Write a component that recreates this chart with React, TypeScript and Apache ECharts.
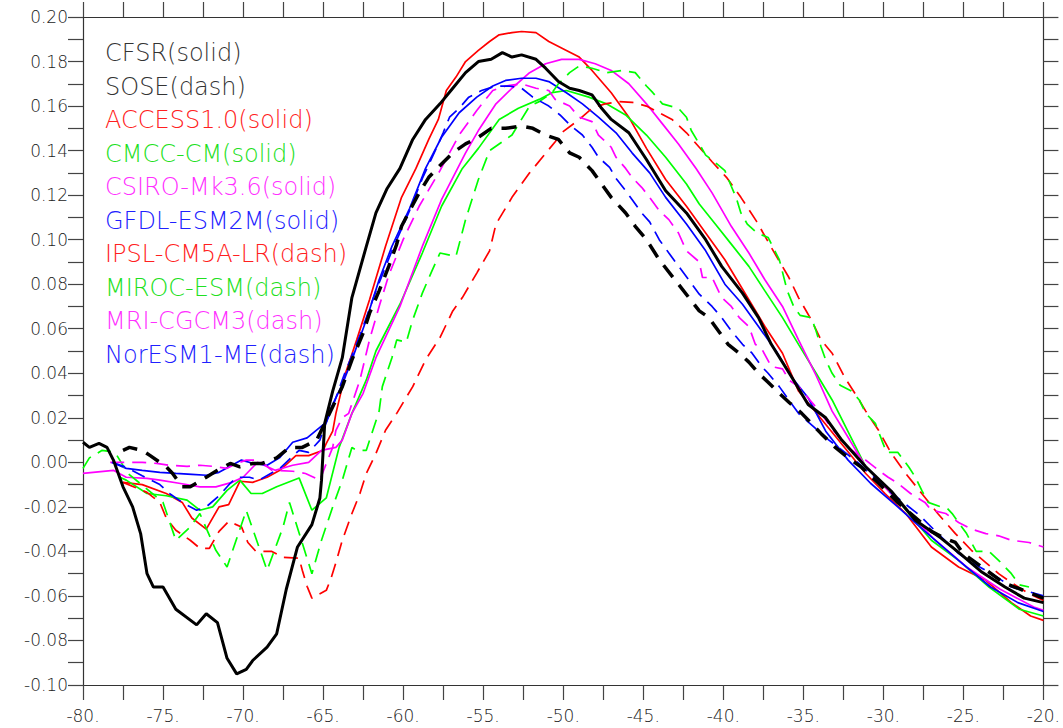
import React, { useEffect, useRef } from "react";
import * as echarts from "echarts";

const xTicks = { min: -80, max: -20, interval: 5 };
const yTicks = { min: -0.1, max: 0.2, interval: 0.02 };

const cfsr = [[-80,0.009],[-79.6,0.0067],[-79,0.0085],[-78.5,0.0067],[-78.1,0.001],[-77.5,-0.011],[-76.9,-0.02],[-76.4,-0.032],[-76,-0.05],[-75.6,-0.056],[-75,-0.056],[-74.2,-0.066],[-72.9,-0.073],[-72.3,-0.068],[-71.6,-0.072],[-71,-0.088],[-70.4,-0.095],[-69.8,-0.093],[-69.4,-0.089],[-68.5,-0.083],[-67.9,-0.077],[-67.3,-0.057],[-66.6,-0.038],[-65.7,-0.028],[-65.2,-0.016],[-65.1,-0.008],[-64.9,0.0175],[-64.4,0.032],[-63.8,0.047],[-63.2,0.074],[-62.3,0.097],[-61.7,0.112],[-61,0.123],[-60.2,0.132],[-59.4,0.145],[-58.6,0.154],[-57.7,0.161],[-56.9,0.168],[-56.1,0.175],[-55.3,0.18],[-54.5,0.181],[-53.8,0.184],[-53.2,0.182],[-52.6,0.183],[-51.7,0.181],[-51.1,0.177],[-50.3,0.171],[-49.6,0.168],[-49,0.167],[-48.2,0.165],[-47.6,0.159],[-47,0.154],[-45.9,0.148],[-44.8,0.136],[-43.6,0.122],[-42.3,0.112],[-41.1,0.1],[-40.1,0.088],[-38.8,0.076],[-37.8,0.065],[-37,0.053],[-35.7,0.038],[-34.7,0.026],[-33.6,0.02],[-32.6,0.01],[-31.1,-0.002],[-29.5,-0.013],[-28,-0.026],[-26.4,-0.034],[-25.2,-0.041],[-23.9,-0.049],[-22.4,-0.056],[-21.2,-0.061],[-20,-0.063]];

const sose = [[-77.5,0.0054],[-77.1,0.0067],[-76.3,0.0054],[-75.8,0.003],[-74.8,-0.002],[-74.4,-0.005],[-73.8,-0.011],[-73.3,-0.011],[-72.3,-0.0067],[-71.6,-0.0036],[-70.8,-0.0005],[-70.2,-0.002],[-69.4,-0.0005],[-68.8,-0.0005],[-67.9,0.002],[-67.1,0.0067],[-66.3,0.0067],[-65.4,0.01],[-65,0.016],[-64.4,0.025],[-63.8,0.034],[-63.2,0.046],[-62.5,0.058],[-62.1,0.067],[-61.5,0.077],[-60.9,0.088],[-60.4,0.098],[-60.1,0.106],[-59.6,0.113],[-59,0.121],[-58.4,0.128],[-57.6,0.134],[-56.9,0.139],[-56.1,0.143],[-55.3,0.146],[-54.5,0.15],[-53.6,0.15],[-52.6,0.151],[-51.9,0.15],[-51.1,0.147],[-50.3,0.145],[-49.6,0.139],[-49,0.137],[-48.2,0.131],[-47.8,0.127],[-47,0.119],[-46.1,0.112],[-45.5,0.106],[-44.8,0.1],[-44,0.091],[-41.5,0.068],[-40.9,0.065],[-40.3,0.059],[-39.7,0.053],[-39,0.049],[-38.4,0.045],[-37.8,0.04],[-37.2,0.036],[-36.5,0.031],[-35.9,0.027],[-35.1,0.022],[-34.7,0.019],[-33.9,0.013],[-33,0.0067],[-32.2,0.002],[-31.4,-0.002],[-30.3,-0.0094],[-29.1,-0.018],[-27.8,-0.026],[-27,-0.031],[-26.2,-0.034],[-25.5,-0.036],[-25,-0.041],[-22.5,-0.054],[-20,-0.061]];

const access = [[-77.5,-0.009],[-76.3,-0.01],[-74.8,-0.014],[-73.8,-0.018],[-73.2,-0.025],[-72.3,-0.03],[-71.5,-0.02],[-70.9,-0.019],[-70.2,-0.0085],[-69.4,-0.009],[-68.5,-0.0067],[-67.7,-0.0036],[-66.7,0.003],[-65.9,0.003],[-65,0.0054],[-64.8,0.0085],[-64.4,0.014],[-64.2,0.022],[-63.6,0.04],[-62.9,0.055],[-62.1,0.073],[-61.1,0.097],[-60.1,0.119],[-59.2,0.132],[-58.4,0.145],[-57.8,0.154],[-57.3,0.167],[-56.7,0.173],[-56.1,0.18],[-55.3,0.185],[-54.6,0.189],[-54,0.192],[-53.2,0.193],[-52.6,0.1935],[-51.7,0.193],[-50.9,0.189],[-49.8,0.185],[-49,0.182],[-48.2,0.176],[-47,0.166],[-45.9,0.155],[-44.8,0.141],[-43.6,0.127],[-42.3,0.115],[-41.1,0.103],[-39.9,0.091],[-38.4,0.073],[-37.4,0.061],[-36.3,0.049],[-35.3,0.032],[-34.5,0.025],[-31.1,-0.005],[-29.9,-0.014],[-28.6,-0.023],[-27,-0.038],[-25.3,-0.047],[-23.6,-0.053],[-22,-0.063],[-20.8,-0.069],[-20,-0.071]];

const cmcc = [[-77.7,-0.0067],[-77.3,-0.008],[-76,-0.014],[-74.8,-0.015],[-73.5,-0.017],[-72.7,-0.0215],[-71.9,-0.02],[-71,-0.0126],[-70.2,-0.008],[-69.5,-0.014],[-68.8,-0.014],[-67.9,-0.011],[-66.5,-0.007],[-65.7,-0.0215],[-64.8,-0.016],[-64,0.0067],[-63.2,0.022],[-62.3,0.037],[-61.7,0.05],[-60.2,0.071],[-58.8,0.094],[-57.6,0.115],[-56.3,0.132],[-55.3,0.141],[-54,0.154],[-52.8,0.159],[-51.5,0.163],[-50.7,0.166],[-49.8,0.167],[-48.4,0.164],[-47.3,0.161],[-46.1,0.156],[-44.8,0.147],[-43.6,0.137],[-42.3,0.125],[-41.5,0.116],[-40.5,0.107],[-39.5,0.098],[-38.4,0.088],[-37.4,0.077],[-36.3,0.065],[-35.3,0.053],[-34.2,0.04],[-33.2,0.028],[-31.1,-0.002],[-29,-0.018],[-27,-0.035],[-25.3,-0.044],[-23.4,-0.056],[-21.5,-0.066],[-20,-0.069]];

const csiro = [[-80,-0.005],[-78.1,-0.0036],[-77.3,-0.0067],[-76,-0.0072],[-75.2,-0.008],[-74,-0.0094],[-72.7,-0.011],[-71.7,-0.011],[-70.7,-0.009],[-70,-0.0067],[-69.1,0],[-68,-0.0036],[-66.9,-0.0013],[-65.9,0],[-65.1,0.0054],[-64.2,0.0067],[-63.8,0.01],[-63.2,0.022],[-62.5,0.031],[-61.7,0.047],[-60.2,0.07],[-58.8,0.097],[-57.6,0.118],[-56.1,0.139],[-55.3,0.149],[-54.2,0.161],[-53.2,0.168],[-52.1,0.175],[-51.1,0.179],[-50.1,0.181],[-49,0.181],[-48,0.179],[-47,0.176],[-45.9,0.17],[-44.8,0.161],[-43.8,0.152],[-42.8,0.143],[-41.7,0.132],[-40.7,0.121],[-39.5,0.106],[-38.4,0.094],[-37.4,0.082],[-36.3,0.07],[-35.3,0.055],[-34.2,0.039],[-33.2,0.023],[-32.1,0.01],[-31.1,-0.002],[-26.9,-0.034],[-24.8,-0.047],[-22.7,-0.057],[-20.6,-0.065],[-20,-0.0665]];

const gfdl = [[-78.2,0],[-77.3,-0.0027],[-76.3,-0.0036],[-75.2,-0.0045],[-74.2,-0.005],[-73.2,-0.0054],[-72.3,-0.0058],[-71.5,-0.0045],[-70.7,-0.0013],[-70.1,0.001],[-69.4,-0.0004],[-68.5,-0.0013],[-67.7,0.0022],[-66.9,0.009],[-66,0.011],[-65.2,0.0157],[-64.8,0.018],[-64.6,0.023],[-63.8,0.035],[-63.2,0.046],[-62.3,0.064],[-61.5,0.082],[-60.7,0.097],[-59.6,0.114],[-58.6,0.132],[-57.6,0.146],[-56.5,0.157],[-55.4,0.164],[-54.4,0.169],[-53.6,0.1715],[-52.6,0.1725],[-51.7,0.1725],[-50.9,0.171],[-49.8,0.166],[-48.8,0.161],[-47.8,0.155],[-46.7,0.148],[-45.7,0.139],[-44.6,0.13],[-43.6,0.119],[-42.3,0.107],[-41.1,0.095],[-39.9,0.08],[-38.8,0.071],[-37.8,0.061],[-36.7,0.05],[-35.7,0.038],[-34.7,0.029],[-33.6,0.014],[-32.2,0.001],[-30.8,-0.0094],[-29.1,-0.02],[-27.4,-0.031],[-25.3,-0.044],[-23.3,-0.056],[-21.6,-0.063],[-20,-0.067]];

const ipsl = [[-77.5,-0.009],[-76,-0.0135],[-75.2,-0.018],[-74.8,-0.025],[-74.2,-0.0305],[-73.3,-0.035],[-72.7,-0.0386],[-72.1,-0.0386],[-71.5,-0.031],[-70.9,-0.0265],[-70.1,-0.029],[-69.7,-0.036],[-69.2,-0.04],[-68.2,-0.04],[-67.5,-0.0427],[-66.5,-0.043],[-66.3,-0.0485],[-66,-0.0557],[-65.7,-0.061],[-64.8,-0.0575],[-64.5,-0.052],[-64.2,-0.045],[-63.8,-0.035],[-63.2,-0.023],[-62.7,-0.014],[-62.3,-0.005],[-61.7,0.004],[-61.1,0.0144],[-60.4,0.022],[-59.4,0.034],[-58.6,0.046],[-57.7,0.056],[-56.9,0.068],[-56.3,0.074],[-55.4,0.085],[-54.6,0.095],[-54.2,0.107],[-53.2,0.119],[-52.1,0.13],[-51.3,0.137],[-50.5,0.144],[-50.1,0.148],[-49,0.154],[-48.2,0.159],[-47.4,0.161],[-46.5,0.162],[-45.7,0.1617],[-44.8,0.16],[-44,0.157],[-43.2,0.154],[-42.3,0.148],[-41.5,0.1415],[-40.7,0.135],[-39.8,0.128],[-38.9,0.119],[-37.9,0.108],[-37,0.0965],[-35.9,0.083],[-35.3,0.074],[-34.5,0.064],[-33.9,0.055],[-33.2,0.049],[-32.4,0.038],[-31.6,0.029],[-31.1,0.023],[-30.3,0.0144],[-29.5,0.004],[-28.6,-0.005],[-27.6,-0.014],[-26.6,-0.023],[-25.5,-0.032],[-24.5,-0.0395],[-23.6,-0.045],[-22.8,-0.05],[-22,-0.054],[-20.9,-0.059],[-20,-0.062]];

const miroc = [[-80,-0.0027],[-79.6,0.002],[-78.8,0.0054],[-78,0.0045],[-77.2,-0.005],[-76,-0.012],[-75,-0.018],[-74.2,-0.035],[-73.3,-0.029],[-72.7,-0.023],[-71.7,-0.0395],[-71,-0.047],[-69.8,-0.0216],[-68.5,-0.0485],[-67.5,-0.029],[-67.1,-0.018],[-65.7,-0.05],[-65.1,-0.035],[-64.4,-0.02],[-63.8,-0.008],[-63.2,0.0067],[-62.9,0.0054],[-62.3,0.0054],[-61.5,0.023],[-61.3,0.034],[-60.7,0.047],[-60.4,0.055],[-59.8,0.054],[-59.4,0.064],[-58.8,0.076],[-58.2,0.086],[-57.7,0.094],[-56.7,0.0925],[-56.1,0.109],[-55.3,0.127],[-54.6,0.14],[-53.2,0.147],[-52.1,0.16],[-51.5,0.162],[-50.7,0.166],[-50.3,0.17],[-49.6,0.175],[-49,0.178],[-48.2,0.177],[-47.3,0.175],[-46.3,0.176],[-45.5,0.175],[-44.8,0.169],[-44.4,0.166],[-43.8,0.161],[-42.8,0.159],[-42.3,0.155],[-42,0.149],[-41.5,0.143],[-41.1,0.138],[-40.4,0.134],[-39.9,0.131],[-39.5,0.124],[-39.2,0.119],[-38.9,0.112],[-38.5,0.107],[-37.9,0.103],[-37.2,0.101],[-36.5,0.091],[-36,0.077],[-35.6,0.07],[-35.2,0.066],[-34.5,0.065],[-34.2,0.059],[-33.9,0.052],[-33.6,0.046],[-33.2,0.04],[-32.7,0.0346],[-32,0.032],[-31.5,0.028],[-31.1,0.022],[-30.5,0.0175],[-30.1,0.01],[-29.8,0.0045],[-29.1,0.0045],[-28.4,-0.0022],[-28,-0.0067],[-27.6,-0.0126],[-27.2,-0.018],[-26.4,-0.02],[-26,-0.0207],[-25.7,-0.023],[-24.8,-0.032],[-24.2,-0.04],[-23.4,-0.04],[-22.8,-0.044],[-22,-0.05],[-21.5,-0.055],[-20.9,-0.056]];

const mri = [[-78.3,0],[-77.3,0],[-76.3,0],[-75.4,-0.0005],[-74.6,-0.0013],[-73.5,-0.0018],[-72.7,-0.0013],[-71.9,-0.0018],[-71,-0.0027],[-70.4,-0.0005],[-69.8,0.001],[-69,0.001],[-68.2,-0.0036],[-66.9,-0.004],[-66.1,-0.005],[-65.2,-0.008],[-64.8,-0.0005],[-64.4,0.0067],[-64.2,0.0144],[-63.8,0.02],[-63.4,0.022],[-62.7,0.037],[-62.1,0.055],[-61.5,0.07],[-60.9,0.084],[-60,0.1],[-59,0.115],[-57.7,0.131],[-56.5,0.147],[-55.4,0.158],[-54.4,0.167],[-53.6,0.169],[-52.6,0.17],[-51.7,0.168],[-50.9,0.167],[-50.5,0.163],[-49.6,0.16],[-49,0.155],[-48.2,0.153],[-47.8,0.147],[-47,0.1415],[-46.7,0.137],[-46.1,0.132],[-45.7,0.128],[-45.1,0.1235],[-44.6,0.119],[-44,0.113],[-43.4,0.109],[-42.8,0.103],[-42.3,0.095],[-41.5,0.09],[-41.3,0.083],[-40.7,0.083],[-40.1,0.074],[-39.5,0.07],[-39,0.065],[-38.4,0.061],[-38,0.053],[-37.6,0.051],[-37,0.043],[-36.3,0.042],[-35.9,0.037],[-35.3,0.034],[-34,0.023],[-33.2,0.015],[-32.2,0.0067],[-31.7,0.004],[-31.1,0.001],[-30.3,-0.0036],[-29.7,-0.0067],[-29.1,-0.0094],[-28.3,-0.014],[-27.4,-0.018],[-27,-0.0215],[-26.1,-0.023],[-25.3,-0.027],[-24.5,-0.03],[-23.6,-0.032],[-22.8,-0.033],[-22,-0.035],[-20.9,-0.036],[-20,-0.038]];

const noresm = [[-78.2,0],[-77.3,-0.0022],[-76.3,-0.006],[-75.2,-0.01],[-74.6,-0.014],[-73.8,-0.018],[-72.9,-0.0215],[-72.3,-0.02],[-71.5,-0.015],[-70.8,-0.0094],[-70.4,-0.0067],[-69.6,-0.0067],[-69,-0.008],[-67.7,-0.0027],[-66.5,0.0054],[-65.9,0.0045],[-65.2,0.01],[-65,0.0144],[-64.4,0.025],[-63.7,0.039],[-62.7,0.057],[-61.7,0.077],[-60.7,0.095],[-59.6,0.113],[-58.8,0.1275],[-57.9,0.1415],[-57.5,0.148],[-57.1,0.155],[-56.5,0.159],[-55.9,0.164],[-55.1,0.167],[-54.2,0.169],[-53.4,0.169],[-52.6,0.168],[-51.9,0.164],[-50.9,0.16],[-50.2,0.156],[-49.5,0.151],[-48.8,0.147],[-48.2,0.1415],[-47.8,0.137],[-47.1,0.1325],[-46.7,0.1275],[-46.1,0.122],[-45.7,0.118],[-45.1,0.112],[-44.6,0.108],[-44,0.1],[-43.4,0.094],[-41.5,0.0755],[-40.7,0.07],[-40.1,0.065],[-39.5,0.059],[-38.8,0.053],[-38.2,0.049],[-37.6,0.043],[-37.2,0.04],[-36.5,0.034],[-35.9,0.028],[-35.3,0.022],[-33.4,0.01],[-31.6,0],[-29.7,-0.0126],[-27.7,-0.024],[-26.6,-0.032],[-25.3,-0.041],[-24.5,-0.045],[-23.6,-0.0485],[-22.8,-0.052],[-22,-0.056],[-21.2,-0.0575],[-20,-0.06]];

const seriesNames = ["CFSR", "SOSE", "ACCESS1.0", "CMCC-CM", "CSIRO-Mk3.6", "GFDL-ESM2M", "IPSL-CM5A-LR", "MIROC-ESM", "MRI-CGCM3", "NorESM1-ME"];
const seriesKinds = ["solid", "dash", "solid", "solid", "solid", "solid", "dash", "dash", "dash", "dash"];
const seriesData = [cfsr, sose, access, cmcc, csiro, gfdl, ipsl, miroc, mri, noresm];
const lineColors = ["#000000", "#000000", "#ff0000", "#00ff00", "#ff00ff", "#0000ff", "#ff0000", "#00ff00", "#ff00ff", "#0000ff"];
const textColors = ["#333333", "#333333", "#ff2020", "#20e020", "#ff30ff", "#2020ff", "#ff2020", "#20e020", "#ff30ff", "#2020ff"];

export default function App() {
  const ref = useRef<HTMLDivElement>(null);
  useEffect(() => {
    if (!ref.current) return;
    const chart = echarts.init(ref.current, undefined, { renderer: "svg" });
    const axisCommon = {
      type: "value" as const,
      axisLine: { show: true, onZero: false, lineStyle: { color: "#333", width: 1.2 } },
      axisTick: { show: true, inside: false, length: 15, lineStyle: { color: "#444", width: 1.2 } },
      minorTick: { show: true, splitNumber: 2, length: 15, lineStyle: { color: "#444", width: 1.2 } },
      splitLine: { show: false },
    };
    const labelFont = { fontFamily: "DejaVu Sans", fontSize: 17, fontWeight: 200 as any, color: "#222" };
    const series = seriesData.map((d, i) => {
      const isBlack = i < 2;
      const dashed = seriesKinds[i] === "dash";
      return {
        name: seriesNames[i],
        type: "line",
        data: d,
        showSymbol: false,
        symbol: "none",
        smooth: false,
        xAxisIndex: 0,
        yAxisIndex: 0,
        z: isBlack ? 3 : 2,
        lineStyle: {
          color: lineColors[i],
          width: isBlack ? (dashed ? 3.5 : 3) : 1.7,
          type: dashed ? (isBlack ? [15, 10] : [14, 8]) : "solid",
        },
      };
    });
    const graphics = seriesNames.map((n, i) => ({
      type: "text",
      x: 105,
      y: 53 + i * 33.55,
      silent: true,
      style: {
        text: `${n}(${seriesKinds[i]})`,
        fill: textColors[i],
        font: "200 24px 'DejaVu Sans'",
        verticalAlign: "middle",
        align: "left",
      },
    }));
    chart.setOption({
      animation: false,
      backgroundColor: "#ffffff",
      grid: { left: 83, right: 18, top: 17, bottom: 43, containLabel: false },
      xAxis: [
        {
          ...axisCommon,
          position: "bottom",
          min: xTicks.min,
          max: xTicks.max,
          interval: xTicks.interval,
          axisLabel: { ...labelFont, margin: 22, formatter: (v: number) => `${v}.` },
        },
        {
          ...axisCommon,
          position: "top",
          min: xTicks.min,
          max: xTicks.max,
          interval: xTicks.interval,
          axisLabel: { show: false },
        },
      ],
      yAxis: [
        {
          ...axisCommon,
          position: "left",
          min: yTicks.min,
          max: yTicks.max,
          interval: yTicks.interval,
          axisLabel: { ...labelFont, margin: 15, formatter: (v: number) => v.toFixed(2) },
        },
        {
          ...axisCommon,
          position: "right",
          min: yTicks.min,
          max: yTicks.max,
          interval: yTicks.interval,
          axisLabel: { show: false },
        },
      ],
      series,
      graphic: graphics,
    });
    return () => chart.dispose();
  }, []);
  return <div ref={ref} style={{ position: "absolute", left: 0, top: 0, width: 1063, height: 728 }} />;
}
